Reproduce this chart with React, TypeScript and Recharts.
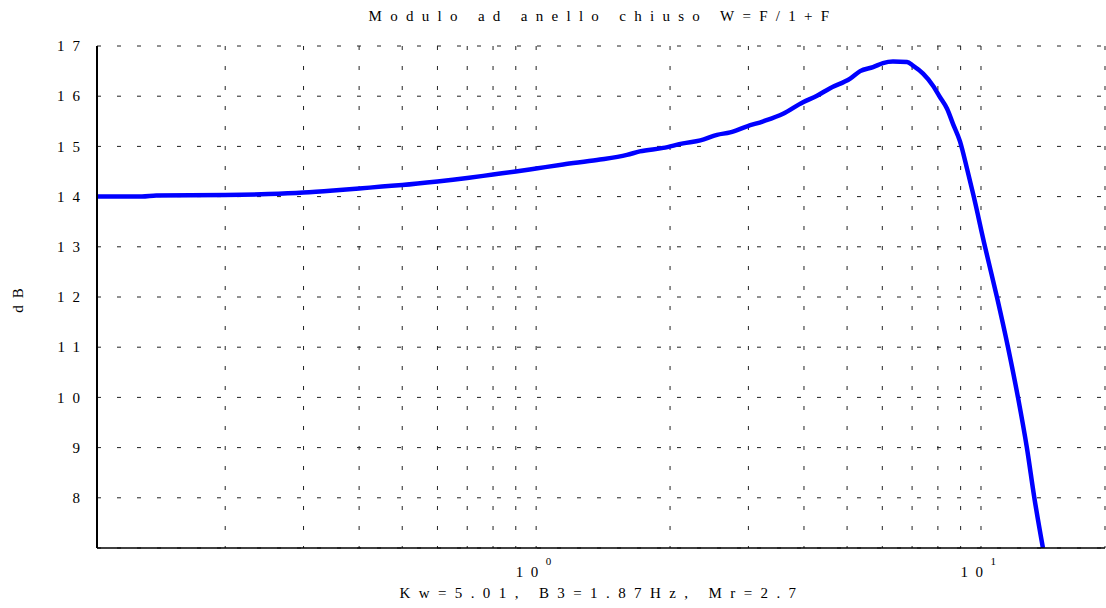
import React from 'react';
import { LineChart, Line, XAxis, YAxis, CartesianGrid, Label } from 'recharts';

// frequency (Hz) and closed-loop magnitude (dB)
const freq = [
  0.103, 0.13, 0.14, 0.2, 0.25, 0.3, 0.35, 0.4, 0.45, 0.5, 0.6, 0.7, 0.8, 0.9, 1.0,
  1.15, 1.37, 1.6, 1.71, 1.93, 2.14, 2.34, 2.55, 2.73, 2.98, 3.24, 3.59, 3.98, 4.28,
  4.58, 5.08, 5.35, 5.72, 6.02, 6.34, 6.82, 7.03, 7.41, 7.8, 8.09, 8.39, 8.65, 8.97,
  9.3, 9.62, 10.21, 10.86, 11.5, 12.11, 12.68, 13.18, 13.78,
];
const magDb = [
  14.0, 14.0, 14.02, 14.03, 14.05, 14.08, 14.12, 14.16, 14.2, 14.23, 14.3, 14.37, 14.44, 14.5, 14.56,
  14.64, 14.73, 14.83, 14.9, 14.97, 15.06, 15.12, 15.23, 15.28, 15.4, 15.5, 15.65, 15.88, 16.01,
  16.16, 16.35, 16.5, 16.58, 16.66, 16.69, 16.68, 16.61, 16.45, 16.21, 15.98, 15.75, 15.45, 15.1,
  14.56, 14.02, 13.0, 12.0, 11.0, 10.0, 9.0, 8.0, 7.0,
];

const xTicks = [0.2, 0.3, 0.4, 0.5, 0.6, 0.7, 0.8, 0.9, 1, 2, 3, 4, 5, 6, 7, 8, 9, 10];
const xLabelTicks = [1, 10];
const yTicks = [8, 9, 10, 11, 12, 13, 14, 15, 16, 17];

const title = 'Modulo ad anello chiuso W=F/1+F';
const xLabel = 'Kw=5.01, B3=1.87Hz, Mr=2.7';
const yLabel = 'dB';

const data = freq.map((f, i) => ({ f, db: magDb[i] }));

const FONT = '"Liberation Serif", "Times New Roman", serif';

const XTick = (props: any) => {
  const { x, y, payload } = props;
  const v = payload.value;
  if (!xLabelTicks.includes(v)) return null;
  const exp = Math.round(Math.log10(v));
  return (
    <text x={x - 20.5} y={y + 29} fontFamily={FONT} fontSize={15} fill="#000" letterSpacing={7.5}>
      <tspan>10</tspan>
      <tspan dy={-12} fontSize={11}>{exp}</tspan>
    </text>
  );
};

const YTick = (props: any) => {
  const { x, y, payload } = props;
  return (
    <text x={x} y={y} dy="0.35em" textAnchor="end" fontFamily={FONT} fontSize={15} fill="#000" letterSpacing={8}>
      {payload.value}
    </text>
  );
};

export default function App() {
  return (
    <div style={{ position: 'absolute', left: 0, top: 0, width: 1106, height: 608, background: '#fff' }}>
      <div
        style={{
          position: 'absolute',
          left: 603,
          top: 9,
          transform: 'translateX(-50%)',
          whiteSpace: 'nowrap',
          fontFamily: FONT,
          fontSize: 15,
          lineHeight: '15px',
          letterSpacing: 8.3,
          color: '#000',
        }}
      >
        {title}
      </div>
      <LineChart width={1106} height={608} data={data} margin={{ top: 46, right: 1, bottom: 0, left: 0 }}>
        <CartesianGrid stroke="#222" strokeDasharray="4 16" strokeWidth={1} />
        <XAxis
          dataKey="f"
          type="number"
          scale="log"
          domain={[0.103, 19]}
          allowDataOverflow
          ticks={xTicks}
          interval={0}
          height={60}
          tickLine={false}
          tickSize={0}
          tickMargin={0}
          tick={<XTick />}
          axisLine={{ stroke: '#000', strokeWidth: 1.5 }}
        >
          <Label
            content={(p: any) => {
              const vb = p.viewBox;
              return (
                <text x={vb.x + vb.width / 2 + 1} y={598} textAnchor="middle" fontFamily={FONT} fontSize={15} fill="#000" letterSpacing={8.4}>
                  {xLabel}
                </text>
              );
            }}
          />
        </XAxis>
        <XAxis
          xAxisId="top"
          orientation="top"
          dataKey="f"
          type="number"
          scale="log"
          domain={[0.103, 19]}
          allowDataOverflow
          height={0}
          tick={false}
          tickLine={false}
          axisLine={{ stroke: '#000', strokeWidth: 1.5 }}
        />
        <YAxis
          type="number"
          domain={[7, 17]}
          allowDataOverflow
          ticks={yTicks}
          interval={0}
          width={97}
          tickLine={false}
          tickSize={0}
          tickMargin={9}
          tick={<YTick />}
          axisLine={{ stroke: '#000', strokeWidth: 2 }}
        >
          <Label
            content={(p: any) => {
              const vb = p.viewBox;
              const cy = vb.y + vb.height / 2;
              return (
                <text x={23} y={cy} textAnchor="middle" transform={`rotate(-90, 23, ${cy})`} fontFamily={FONT} fontSize={15} fill="#000" letterSpacing={7}>
                  {yLabel}
                </text>
              );
            }}
          />
        </YAxis>
        <YAxis
          yAxisId="right"
          orientation="right"
          type="number"
          domain={[7, 17]}
          width={0}
          tick={false}
          tickLine={false}
          axisLine={{ stroke: '#000', strokeWidth: 1.5 }}
        />
        <Line
          type="monotone"
          dataKey="db"
          stroke="#0000ff"
          strokeWidth={4.5}
          dot={false}
          activeDot={false}
          isAnimationActive={false}
        />
      </LineChart>
    </div>
  );
}
